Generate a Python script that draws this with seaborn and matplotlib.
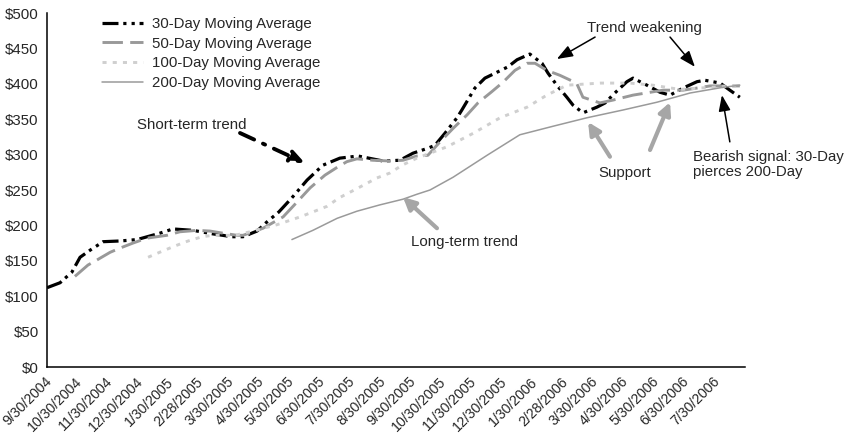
import numpy as np
import pandas as pd
import matplotlib
matplotlib.use("Agg")
import matplotlib.pyplot as plt
import seaborn as sns

# Time axis is measured in months since 9/30/2004; each month is one category slot
month_labels = ["9/30/2004", "10/30/2004", "11/30/2004", "12/30/2004", "1/30/2005",
                "2/28/2005", "3/30/2005", "4/30/2005", "5/30/2005", "6/30/2005",
                "7/30/2005", "8/30/2005", "9/30/2005", "10/30/2005", "11/30/2005",
                "12/30/2005", "1/30/2006", "2/28/2006", "3/30/2006", "4/30/2006",
                "5/30/2006", "6/30/2006", "7/30/2006"]

ma30_t = [0.00, 0.43, 0.82, 1.09, 1.42, 1.85, 2.41, 2.97, 3.72, 4.15, 4.81, 5.47, 6.10,
          6.46, 6.92, 7.25, 7.64, 8.07, 8.57, 9.09, 9.65, 10.25, 11.07, 11.63, 12.06,
          12.55, 12.78, 13.11, 13.51, 13.67, 14.10, 14.43, 14.86, 15.19, 15.49, 15.91,
          16.31, 16.51, 16.80, 17.13, 17.33, 17.66, 18.12, 18.39, 18.71, 19.11, 19.31,
          19.77, 20.20, 20.53, 20.96, 21.42, 21.68, 22.18, 22.50, 22.83]
ma30_v = [112, 119, 134, 155, 165, 177, 178, 180, 189, 195, 193, 188, 184,
          184, 192, 205, 219, 239, 264, 285, 295, 298, 291, 292, 302,
          309, 313, 330, 352, 363, 394, 408, 417, 424, 434, 442,
          429, 415, 398, 381, 370, 359, 367, 373, 387, 403, 408,
          398, 388, 384, 394, 403, 405, 401, 391, 381]

ma50_t = [0.92, 1.35, 1.68, 2.08, 2.41, 2.83, 3.29, 3.95, 4.38, 4.94, 5.37, 5.80, 6.26,
          6.46, 7.12, 7.78, 8.24, 8.67, 9.16, 9.56, 9.88, 10.21, 10.74, 11.30, 11.73,
          12.19, 12.55, 12.95, 13.38, 13.84, 14.20, 14.66, 15.02, 15.42, 15.82, 16.08,
          16.47, 16.90, 17.30, 17.46, 17.66, 18.22, 18.65, 19.31, 20.30, 20.96, 21.42,
          21.85, 22.27, 22.83]
ma50_v = [128, 144, 152, 162, 168, 175, 182, 186, 191, 193, 192, 189, 186,
          186, 196, 212, 233, 253, 271, 282, 290, 294, 292, 291, 292,
          298, 299, 318, 337, 356, 373, 389, 402, 419, 429, 429,
          419, 412, 404, 400, 381, 373, 377, 384, 391, 391, 394,
          397, 397, 397]

ma100_t = [3.33, 3.82, 4.22, 4.65, 5.11, 5.47, 6.19, 6.69, 7.58, 8.34, 8.76, 9.23, 9.63,
           10.08, 10.48, 10.87, 11.30, 11.70, 12.19, 13.18, 14.04, 14.93, 15.82, 16.47,
           17.13, 18.22, 19.21, 19.97, 20.86, 21.85, 22.83]
ma100_v = [155, 164, 171, 178, 184, 186, 186, 191, 201, 212, 219, 227, 239,
           249, 258, 267, 274, 285, 295, 311, 330, 352, 367, 384,
           398, 401, 401, 398, 392, 395, 397]

ma200_t = [8.07, 8.76, 9.56, 10.21, 10.97, 11.73, 12.19, 12.62, 13.38, 14.50, 15.58,
           16.67, 17.79, 18.98, 20.10, 21.19, 22.27, 22.83]
ma200_v = [180, 193, 210, 220, 229, 237, 244, 250, 268, 299, 328,
           340, 352, 363, 374, 387, 395, 398]

sns.set_theme(style="white")
plt.rcParams["font.family"] = ["Liberation Sans", "DejaVu Sans"]
FS = 10.8

fig = plt.figure(figsize=(8.51, 4.36), dpi=100)
ax = fig.add_axes([47 / 851, 1 - 367 / 436, (745 - 47) / 851, (367 - 13) / 436])

series = [
    ("30-Day Moving Average", ma30_t, ma30_v, "black", 2.3, (0, (5, 1.5, 1, 1.6, 1, 1.5))),
    ("50-Day Moving Average", ma50_t, ma50_v, "#999999", 2.1, (0, (7, 2.5))),
    ("100-Day Moving Average", ma100_t, ma100_v, "#cfcfcf", 2.1, (0, (1.4, 2.1))),
    ("200-Day Moving Average", ma200_t, ma200_v, "#9a9a9a", 1.1, "-"),
]
for name, t, v, color, lw, ls in series:
    df = pd.DataFrame({"month": t, "price": v})
    sns.lineplot(data=df, x="month", y="price", ax=ax, color=color, lw=lw,
                 linestyle=ls, label=name, estimator=None, sort=False)

ax.set_xlim(0, 23)
ax.set_ylim(0, 500)
ax.set_xlabel("")
ax.set_ylabel("")

yt = np.arange(0, 501, 50)
ax.set_yticks(yt)
ax.set_yticklabels([f"${v}" for v in yt], fontsize=FS)

ax.set_xticks(np.arange(24))
ax.set_xticklabels([])
ax.set_xticks(np.arange(len(month_labels)) + 0.08, minor=True)
ax.set_xticklabels(month_labels, minor=True, rotation=45, ha="right",
                   va="center", rotation_mode="anchor", fontsize=FS - 0.6)
ax.tick_params(axis="x", which="major", direction="out", length=4, width=1, color="black")
ax.tick_params(axis="x", which="minor", length=0, pad=9)
ax.tick_params(axis="y", direction="out", length=4, width=1, color="black", pad=2)

for side in ["top", "right"]:
    ax.spines[side].set_visible(False)
for side in ["left", "bottom"]:
    ax.spines[side].set_color("black")
    ax.spines[side].set_linewidth(1.1)

leg = ax.legend(loc="upper left", bbox_to_anchor=(102 / 851, 1 - 17 / 436),
                bbox_transform=fig.transFigure, frameon=False, fontsize=FS,
                handlelength=2.75, handletextpad=0.6, labelspacing=0.38,
                borderpad=0, borderaxespad=0)

# annotations
ax.text(4.78, 342, "Short-term trend", fontsize=FS, ha="center", va="center")
ax.annotate("", xy=(8.50, 288), xytext=(6.36, 330.5),
            arrowprops=dict(arrowstyle="-|>,head_length=0.7,head_width=0.3", lw=2.8,
                            color="black", linestyle=(0, (4, 2.5, 0.6, 2.5)),
                            shrinkA=0, shrinkB=0))

ax.text(19.70, 479, "Trend weakening", fontsize=FS, ha="center", va="center")
for start, end in [((18.06, 466), (16.80, 435)), ((20.53, 466), (21.35, 424))]:
    ax.annotate("", xy=end, xytext=start,
                arrowprops=dict(arrowstyle="-|>,head_length=0.8,head_width=0.3", lw=1.1,
                                color="black", shrinkA=0, shrinkB=0))

ax.text(19.04, 274, "Support", fontsize=FS, ha="center", va="center")
for start, end in [((18.55, 297), (17.83, 346)), ((19.87, 306.5), (20.53, 374))]:
    ax.annotate("", xy=end, xytext=start,
                arrowprops=dict(arrowstyle="-|>,head_length=0.6,head_width=0.3", lw=3,
                                color="#a6a6a6", shrinkA=0, shrinkB=0))

ax.text(21.29, 286, "Bearish signal: 30-Day\npierces 200-Day", fontsize=FS,
        ha="left", va="center", linespacing=1.12)
ax.annotate("", xy=(22.24, 384), xytext=(22.50, 318),
            arrowprops=dict(arrowstyle="-|>,head_length=0.8,head_width=0.3", lw=1.1,
                            color="black", shrinkA=0, shrinkB=0))

ax.text(13.77, 177, "Long-term trend", fontsize=FS, ha="center", va="center")
ax.annotate("", xy=(11.73, 240), xytext=(12.85, 196),
            arrowprops=dict(arrowstyle="-|>,head_length=0.6,head_width=0.3", lw=3,
                            color="#a6a6a6", shrinkA=0, shrinkB=0))

fig.savefig("out.png", dpi=100, facecolor="white")
